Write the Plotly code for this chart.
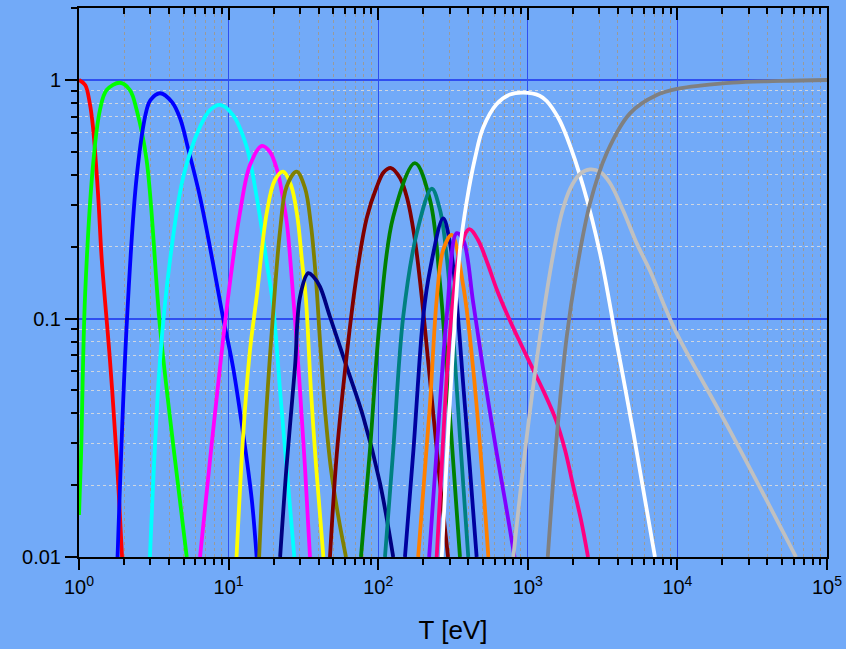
import plotly.graph_objects as go

# ---- data ----
colors = ["#FF0000", "#00FF00", "#0000FF", "#00FFFF", "#FF00FF", "#FFFF00",
          "#808000", "#000080", "#800000", "#008000", "#008080", "#0000A0",
          "#FF8000", "#8000FF", "#FF0080", "#FFFFFF", "#C0C0C0", "#808080"]

T0 = [1, 1.10, 1.18, 1.24, 1.34, 1.42, 1.61, 1.79, 1.94]
f0 = [1, 0.953, 0.80, 0.635, 0.335, 0.176, 0.067, 0.0255, 0.01]

T1 = [1, 1.03, 1.10, 1.25, 1.38, 1.53, 1.88, 2.19, 2.43, 2.83, 3.48, 4.25, 5.25]
f1 = [0.015, 0.0255, 0.128, 0.462, 0.748, 0.908, 0.974, 0.908, 0.748, 0.462, 0.092, 0.030, 0.01]

T2 = [1.81, 2.08, 2.43, 2.83, 3.0, 3.48, 4.18, 4.73, 5.35, 6.44, 7.86, 9.16, 10.7, 12.5, 14.3, 15.4]
f2 = [0.01, 0.092, 0.393, 0.748, 0.824, 0.88, 0.809, 0.693, 0.519, 0.323, 0.171, 0.1016, 0.0626, 0.033, 0.0173, 0.01]

T3 = [2.98, 3.48, 4.06, 4.98, 6.44, 7.51, 8.76, 10.7, 13.2, 15.4, 18.0, 19.8, 22.2, 24.4, 27.5]
f3 = [0.01, 0.067, 0.176, 0.393, 0.637, 0.748, 0.786, 0.713, 0.525, 0.324, 0.171, 0.114, 0.0478, 0.0239, 0.01]

T4 = [6.44, 7.51, 8.76, 10.2, 11.9, 13.9, 16.7, 18.9, 21.1, 22.7, 24.6, 26.1, 27.8, 30.0, 32.4, 35.0]
f4 = [0.01, 0.0255, 0.0626, 0.141, 0.277, 0.44, 0.529, 0.499, 0.42, 0.339, 0.247, 0.163, 0.0986, 0.0501, 0.0238, 0.01]

T5 = [11.3, 12.54, 13.9, 15.4, 17.98, 20.4, 23.2, 26.1, 28.7, 30.9, 32.9, 35.5, 38.4, 43.0]
f5 = [0.01, 0.0331, 0.0738, 0.123, 0.277, 0.381, 0.413, 0.363, 0.272, 0.176, 0.1196, 0.0501, 0.0243, 0.01]

T6 = [16.0, 17.5, 19.4, 22.1, 24.4, 28.5, 32.4, 35.5, 38.4, 40.8, 44.1, 48.4, 53.9, 60.9]
f6 = [0.01, 0.033, 0.0867, 0.235, 0.357, 0.413, 0.3525, 0.247, 0.145, 0.0812, 0.0413, 0.0232, 0.015, 0.01]

T7 = [22.1, 24.4, 27.8, 30.0, 34.1, 36.8, 40.8, 47.6, 61.5, 79.4, 102.8, 126]
f7 = [0.01, 0.024, 0.0628, 0.123, 0.155, 0.15, 0.136, 0.1017, 0.0628, 0.0387, 0.0204, 0.01]

T8 = [47.6, 52.8, 61.6, 71.8, 83.8, 97.7, 109, 122, 140, 156, 174, 190, 222, 259, 293]
f8 = [0.01, 0.0268, 0.0703, 0.152, 0.264, 0.356, 0.411, 0.4276, 0.388, 0.32, 0.224, 0.145, 0.0552, 0.0204, 0.01]

T9 = [76.7, 88.1, 103, 126, 176, 222, 259, 302, 352]
f9 = [0.01, 0.0281, 0.102, 0.267, 0.448, 0.314, 0.14, 0.0387, 0.01]

T10 = [111, 126, 147, 181, 228, 259, 287, 318, 352, 400]
f10 = [0.01, 0.0281, 0.102, 0.228, 0.35, 0.285, 0.182, 0.084, 0.0319, 0.01]

T11 = [151, 172, 200, 222, 272, 302, 335, 371, 411, 455]
f11 = [0.01, 0.0281, 0.102, 0.16, 0.263, 0.207, 0.116, 0.0518, 0.0232, 0.01]

T12 = [185, 222, 246, 272, 310, 371, 432, 504, 545]
f12 = [0.01, 0.044, 0.12, 0.194, 0.224, 0.136, 0.0608, 0.0197, 0.01]

T13 = [219, 246, 287, 335, 371, 432, 504, 620, 704, 815]
f13 = [0.01, 0.0281, 0.102, 0.228, 0.213, 0.116, 0.0608, 0.0272, 0.0173, 0.01]

T14 = [246, 267, 288, 316, 352, 406, 465, 534, 622, 726, 860, 1034, 1264, 1543, 1774, 2005, 2268, 2527]
f14 = [0.01, 0.0255, 0.058, 0.1196, 0.1937, 0.237, 0.2134, 0.1725, 0.1317, 0.1044, 0.0828, 0.065,
       0.0501, 0.0375, 0.0281, 0.02, 0.0143, 0.01]

T15 = [266, 288, 316, 352, 392, 444, 502, 620, 760, 933, 1200, 1337, 1600, 1820, 2350, 3040, 3930, 5070, 7080]
f15 = [0.01, 0.0268, 0.0738, 0.1937, 0.314, 0.471, 0.629, 0.793, 0.869, 0.885, 0.86, 0.817, 0.693,
       0.578, 0.357, 0.1876, 0.079, 0.0334, 0.01]

T16 = [800, 984, 1207, 1482, 1694, 1914, 2234, 2606, 3040, 3540, 4325, 5350, 6620, 8050, 9890, 22500, 62100]
f16 = [0.01, 0.0319, 0.0839, 0.1876, 0.2796, 0.349, 0.4035, 0.422, 0.4115, 0.370, 0.285, 0.2066,
       0.1567, 0.116, 0.0867, 0.0338, 0.01]

T17 = [1360, 1561, 1820, 2123, 2606, 3366, 4820, 7280, 10400, 14200, 23500, 50800, 100000]
f17 = [0.01, 0.0319, 0.0839, 0.16, 0.304, 0.493, 0.725, 0.865, 0.923, 0.948, 0.976, 0.992, 1.0]

T_all = [T0, T1, T2, T3, T4, T5, T6, T7, T8, T9, T10, T11, T12, T13, T14, T15, T16, T17]
f_all = [f0, f1, f2, f3, f4, f5, f6, f7, f8, f9, f10, f11, f12, f13, f14, f15, f16, f17]

x_tickvals = [1, 10, 100, 1000, 10000, 100000]
x_ticktext = ["10<sup>0</sup>", "10<sup>1</sup>", "10<sup>2</sup>", "10<sup>3</sup>",
              "10<sup>4</sup>", "10<sup>5</sup>"]
y_tickvals = [0.01, 0.1, 1]
y_ticktext = ["0.01", "0.1", "1"]
x_minor = [k * 10 ** n for n in range(0, 5) for k in range(2, 10)]
y_minor = [k * 10 ** n for n in (-2, -1, 0) for k in range(2, 10)]

BG = "rgb(114,170,248)"
MAJOR = "#2F4FF0"
FONT = "Liberation Sans, Arial, sans-serif"

fig = go.Figure()
for T, f, c in zip(T_all, f_all, colors):
    fig.add_trace(go.Scatter(x=T, y=f, mode="lines",
                             line=dict(color=c, width=3.8, shape="spline", smoothing=1.0),
                             showlegend=False, hoverinfo="skip"))

# invisible trace so that the top (inside-tick) axis is drawn
fig.add_trace(go.Scatter(x=[10], y=[0.1], xaxis="x2", mode="markers",
                         marker=dict(opacity=0), showlegend=False, hoverinfo="skip"))

fig.update_layout(
    width=846, height=649,
    margin=dict(l=79, r=19, t=8, b=92),
    paper_bgcolor=BG, plot_bgcolor=BG,
    font=dict(family=FONT, color="black", size=20),
    xaxis=dict(type="log", range=[0, 5], automargin=False,
               tickmode="array", tickvals=x_tickvals, ticktext=x_ticktext,
               ticks="outside", ticklen=11, tickwidth=2, tickcolor="black",
               showline=True, linecolor="black", linewidth=2,
               showgrid=True, gridcolor=MAJOR, gridwidth=1.2,
               zeroline=False,
               tickfont=dict(size=20),
               title=dict(text="T [eV]", font=dict(size=26), standoff=24),
               minor=dict(tickmode="array", tickvals=x_minor, ticks="outside",
                          ticklen=6, tickwidth=2, tickcolor="black",
                          showgrid=True, gridcolor="#9a9a9a", griddash="dot",
                          gridwidth=1)),
    xaxis2=dict(type="log", range=[0, 5], overlaying="x", side="top", automargin=False,
                tickmode="array", tickvals=x_tickvals, showticklabels=False,
                ticks="inside", ticklen=12, tickwidth=2, tickcolor="black",
                showline=True, linecolor="black", linewidth=2,
                showgrid=False, zeroline=False,
                minor=dict(tickmode="array", tickvals=x_minor, ticks="inside",
                           ticklen=6, tickwidth=2, tickcolor="black", showgrid=False)),
    yaxis=dict(type="log", range=[-2, 0.302], automargin=False,
               tickmode="array", tickvals=y_tickvals, ticktext=y_ticktext,
               ticks="outside", ticklen=12, tickwidth=2, tickcolor="black",
               showline=True, linecolor="black", linewidth=2, mirror=True,
               showgrid=True, gridcolor=MAJOR, gridwidth=1.6,
               zeroline=False,
               tickfont=dict(size=20),
               minor=dict(tickmode="array", tickvals=y_minor, ticks="outside",
                          ticklen=6, tickwidth=2, tickcolor="black",
                          showgrid=True, gridcolor="#cfd6e0", griddash="dot",
                          gridwidth=1)),
)

fig.write_html("out.html")
